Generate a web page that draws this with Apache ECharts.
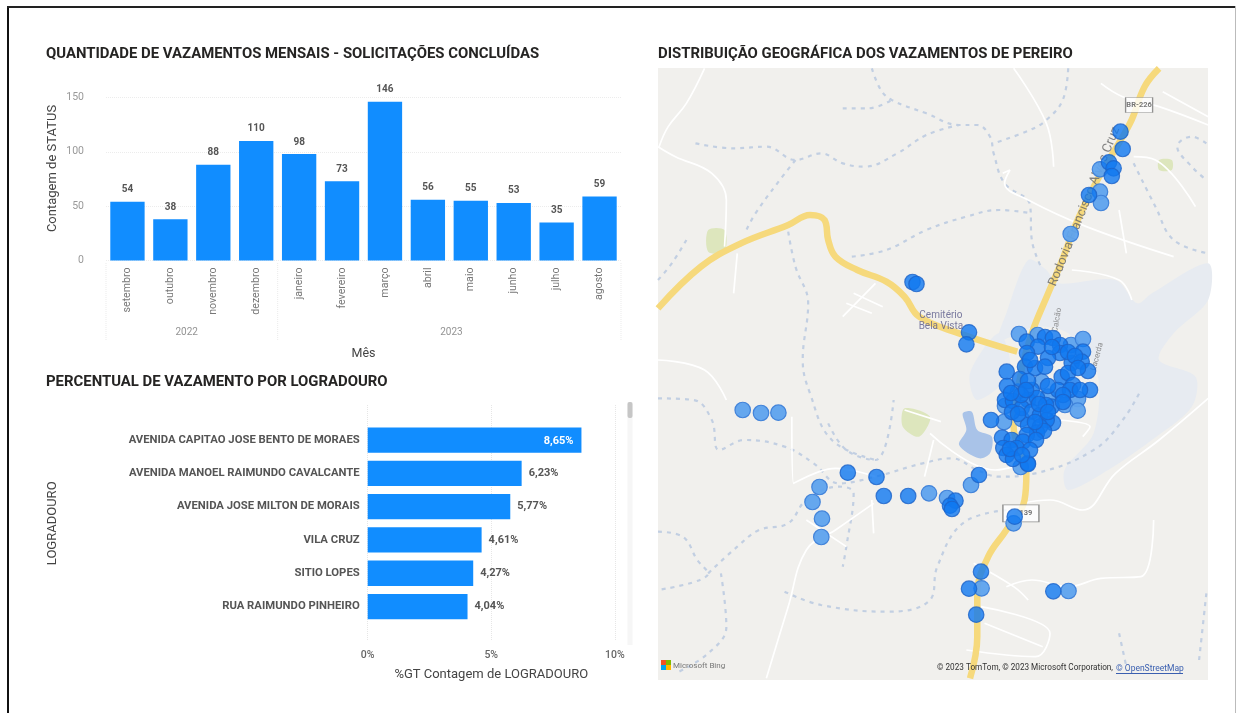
<!DOCTYPE html>
<html><head><meta charset="utf-8">
<style>html,body{margin:0;padding:0;background:#fff}#c{width:1236px;height:713px}canvas{filter:blur(.45px)}</style>
<script src="https://cdn.jsdelivr.net/npm/echarts@6/dist/echarts.min.js"></script>
</head><body><div id="c"></div>
<script>
const months=['setembro','outubro','novembro','dezembro','janeiro','fevereiro','março','abril','maio','junho','julho','agosto'];
const monthCounts=[54,38,88,110,98,73,146,56,55,53,35,59];
const yearLabels=['2022','2023'];
const yearCenters=[1.88,8.05];
const yearEdges=[0,4,12];
const streets=['AVENIDA CAPITAO JOSE BENTO DE MORAES','AVENIDA MANOEL RAIMUNDO CAVALCANTE','AVENIDA JOSE MILTON DE MORAIS','VILA CRUZ','SITIO LOPES','RUA RAIMUNDO PINHEIRO'];
const streetPct=[8.65,6.23,5.77,4.61,4.27,4.04];

// leak points
const darkPoints=[[1120.5,131.7],[1122.7,149],[1109,162.3],[1113.6,168.3],[1111.8,176],[1089,195],[912.5,282],[916.5,284],[969,332.3],[966.4,344.3],
[847.8,472.7],[876.5,477],[883.8,496],[908.2,496],[955.5,500.7],[950,505.7],[952,509],[979,475],[1014.7,516.7],[981,571.7],[969,588.7],[976.2,614.7],[1053.3,591.3],
[1026.7,341.7],[1045,337],[1053,338],[1060,345],[1038,346.7],[1027,353],[1083,351.7],[1060,353],[1048,358],[1071.7,363],[1081.7,361.7],[1025,366.7],[1035,368],[1045,366.7],[1006.7,371.7],[1088,371],[1061.7,377],[1068,373],[1020,379],[1007,386],[1031.7,390],[1058,390],[1073,385],[1070,390],[1090,390],[1063,395],[1005,400],[1013,401],[1028,400],[1037,398],[1051.7,406.7],[1021.7,408],[1031.7,411.7],[1040,415],[1053,423],[1046.7,420],[991,420],[1028,425],[1040,426.7],[1037,432.7],[1026.7,435],[1002,437.7],[1011.7,440],[1023,441.7],[1016.7,448],[1003.3,448],[1006.7,455],[1013,459],[1027.7,463.3],[1028,464],
[1052,347],[1068,352],[1030,360],[1075,356],[1078,368],[1063,402],[1046,405],[1039,404],[1021,395],[1028,381],[1026,390],[1011,393],[1012,412],[1018,414],[1048,386],[1080,390],[1044,431],[1036,440],[1030,450],[1010,449],[1022,455],[1048,412],[1035,422]];
const lightPoints=[[1100,169.3],[1100,191.7],[1101,203],[1070.7,234],[742.7,410],[761,413],[778.4,412.7],[929,493.3],[947,498],[971,485],[819.5,487],[812.5,502],[822,518.7],[821.3,537],[1013.6,523.3],[981.6,588.3],[1068.5,591],
[1019,334],[1037.7,335],[1071,345],[1083,339],[1041.7,381.7],[1018,391.7],[1048,396.7],[1078,399],[1065,405],[1005,406],[1077.7,410.7],[1004,422],[1021.7,419],[1020.7,467]];

// base map, in map units
const z4=p=>p.map(([x,y])=>[x,y+960]);
const highways=[
 [[22,805],[140,680],[250,610],[380,555],[440,525],[480,540],[490,600],[510,650],[570,690],[650,725],[700,770],[740,830],[850,880],[1010,935]],
 [[1400,85],[1360,140],[1320,250],[1240,400],[1180,530],[1130,670],[1095,760],[1050,880],[1020,1000],[1000,1160],[1035,1300],[1030,1380],[980,1470],[930,1550],[900,1660],[900,1790],[880,1915]]
];
const rivers=[
 [[610,85],[635,150],[665,180],[760,220],[850,255],[900,255],[935,290],[945,340],[975,430],[1045,495],[1050,600],[1075,680]],
 [[530,205],[600,205],[665,180]],
 [[125,310],[230,325],[320,320],[400,360],[470,340],[530,370],[590,380],[680,340],[760,285],[850,255]],
 [[400,360],[350,430],[290,520],[265,570]],
 [[1150,85],[1135,180],[1090,240],[1045,270],[945,310]],
 [[555,650],[650,630],[760,570],[870,530],[960,510],[1050,520]],
 [[380,575],[400,680],[435,790],[420,960],[440,1060],[500,1200],[620,1260]],
 [[100,600],[60,670],[22,720]],
 [[1330,370],[1390,500],[1440,600],[1535,640]],
 [[1530,310],[1490,290],[1450,320],[1490,380],[1530,420]],
 z4([[22,115],[120,120],[170,180],[190,270],[260,240],[370,260],[450,310],[520,370],[620,350],[750,310],[830,295],[900,330],[960,350],[1060,340],[1220,270],[1300,180],[1350,90]]),
 z4([[22,515],[90,530],[130,600],[160,640],[22,690]]),
 z4([[160,640],[240,560],[300,510],[380,490],[430,420],[520,380],[560,400],[540,560],[530,620]]),
 z4([[195,640],[210,800],[160,880],[70,940]]),
 z4([[370,695],[470,735],[650,755],[770,720],[790,620],[860,490],[980,450]]),
 z4([[490,190],[540,270],[620,300],[670,120]]),
 z4([[1290,820],[1310,920]]),
 z4([[1530,700],[1510,900]])
];
const streetsWhite=[
 [[150,85],[100,190],[50,260],[25,320]],
 [[22,320],[70,350],[170,400],[210,480],[205,620]],
 [[1000,85],[1090,250],[1110,380]],
 [[970,400],[990,390],[975,430],[1040,480],[1200,560],[1440,650]],
 [[1240,130],[1300,170],[1400,200],[1535,255]],
 [[1410,155],[1535,230]],
 [[1330,350],[1390,360],[1500,500]],
 [[1160,690],[1290,720],[1325,780]],
 [[1290,510],[1310,640]],
 [[240,640],[230,760]],
 [[530,830],[620,730]],[[560,760],[640,800]],[[540,790],[610,820]],
 z4([[22,0],[150,30],[210,120]]),
 z4([[390,170],[395,370],[510,325],[620,350]]),
 z4([[615,430],[510,510],[430,570],[380,740],[320,955]]),
 z4([[430,480],[540,560]]),z4([[610,420],[615,520]]),
 z4([[700,150],[800,185]]),
 z4([[770,220],[950,330],[1000,320]]),
 z4([[780,240],[755,350]]),
 z4([[1020,430],[1100,420],[1190,450],[1280,340],[1400,240],[1535,115]]),
 z4([[890,610],[1000,680],[1040,720]]),
 z4([[980,680],[1050,660],[1150,680],[1240,655],[1350,650],[1385,480]]),
 z4([[910,740],[1100,820],[1060,890],[870,870]]),
 z4([[920,790],[1080,860]]),
 z4([[1120,180],[1210,200],[1190,230]])
];
const wetlands=[
 [[980,820],[1040,660],[1090,690],[1120,730],[1280,720],[1340,790],[1380,760],[1535,670],[1535,780],[1440,880],[1400,960],[1500,1010],[1490,1100],[1380,1200],[1260,1290],[1150,1350],[1140,1290],[1220,1180],[1230,1000],[1150,880],[1060,860],[960,900]],
 [[880,1000],[960,880],[990,1000],[900,1080]]
];
const lake=[[860,1120],[885,1115],[900,1170],[940,1190],[935,1240],[905,1255],[850,1215],[870,1170]];
const parks=[[[160,570],[205,570],[205,635],[160,635]],[[700,1105],[770,1130],[740,1190],[695,1160]],[[1400,360],[1435,360],[1435,390],[1400,390]]];
const mapLabels=[
 {t:'Cemitério',p:[800,825],c:'#5a5a8a',r:0,s:10},
 {t:'Bela Vista',p:[800,858],c:'#5a5a8a',r:0,s:10},
 {t:'Rodovia Francisco Alves Cruz',p:[1195,500],c:'#666',r:68,s:13},
 {t:'Calcão',p:[1120,840],c:'#777',r:80,s:8},
 {t:'Lacerda',p:[1230,950],c:'#777',r:75,s:8}
];

const chart=echarts.init(document.getElementById('c'),null,{renderer:'canvas'});
const titleFont={fontFamily:'Roboto',fontWeight:700,fontSize:14.9,color:'#252423'};
const txt='Roboto, "Open Sans", sans-serif';
const MAP={left:658,top:68,width:550,height:612};
const OV1={left:106,top:262,width:515,height:78};
const OV2={left:367.7,top:405,width:247.1,height:235};
const hide={show:false};
const baseGrid=(i)=>({xAxisIndex:i,yAxisIndex:i});
function poly(data,color,idx){
 return {type:'custom',coordinateSystem:'cartesian2d',...baseGrid(idx),silent:true,z:1,
  data:data.map((d,i)=>[i]),
  encode:{x:[],y:[]},
  renderItem:(p,api)=>({type:'polygon',shape:{points:data[api.value(0)].map(q=>api.coord(q)),smooth:0.3},style:{fill:color}})};
}
function lines(list,style,z){
 return list.map(d=>({type:'line',...baseGrid(2),data:d,smooth:0.4,symbol:'none',silent:true,z,lineStyle:style,animation:false}));
}
chart.setOption({
 animation:false,backgroundColor:'#fff',
 title:[
  {text:'QUANTIDADE DE VAZAMENTOS MENSAIS - SOLICITAÇÕES CONCLUÍDAS',left:46,top:47,padding:0,textStyle:titleFont},
  {text:'PERCENTUAL DE VAZAMENTO POR LOGRADOURO',left:46,top:375,padding:0,textStyle:titleFont},
  {text:'DISTRIBUIÇÃO GEOGRÁFICA DOS VAZAMENTOS DE PEREIRO',left:658,top:47,padding:0,textStyle:titleFont}
 ],
 grid:[
  {left:106,top:97.5,width:515,height:163},
  {left:367.7,top:423.4,width:247.1,height:199.8},
  {...MAP,show:true,backgroundColor:'#f1f0ed',borderWidth:0},
  {...MAP},
  {...OV1},
  {...OV2}
 ],
 xAxis:[
  {gridIndex:0,type:'category',data:months,axisLine:hide,axisTick:hide,
   axisLabel:{rotate:90,color:'#777',fontSize:10.6,margin:7,interval:0,fontFamily:txt},
   name:'Mês',nameLocation:'middle',nameGap:87,nameTextStyle:{color:'#444',fontSize:12.5,fontFamily:txt}},
  {gridIndex:1,type:'value',min:0,max:10,interval:5,axisLine:hide,axisTick:hide,splitLine:hide,
   axisLabel:{formatter:'{value}%',color:'#666',fontSize:10.5,fontWeight:500,margin:27,fontFamily:txt},
   name:'%GT Contagem de LOGRADOURO',nameLocation:'middle',nameGap:45,nameTextStyle:{color:'#444',fontSize:13,fontFamily:txt}},
  {gridIndex:2,type:'value',min:22,max:1534.5,show:false},
  {gridIndex:3,type:'value',min:658,max:1208,show:false},
  {gridIndex:4,type:'value',min:0,max:12,show:false},
  {gridIndex:5,type:'value',min:0,max:10,interval:5,axisLine:hide,axisTick:hide,axisLabel:hide,
   splitLine:{lineStyle:{color:'#e6e6e6',type:'dotted'}}}
 ],
 yAxis:[
  {gridIndex:0,type:'value',min:0,max:150,interval:50,axisLine:hide,axisTick:hide,
   axisLabel:{color:'#999',fontSize:10.5,margin:22,fontFamily:txt},
   splitLine:{lineStyle:{color:'#ececec',type:'dotted'}},
   name:'Contagem de STATUS',nameLocation:'middle',nameGap:47,nameTextStyle:{color:'#444',fontSize:13,fontFamily:txt,padding:[0,0,0,21]}},
  {gridIndex:1,type:'category',data:streets,inverse:true,axisLine:hide,axisTick:hide,
   axisLabel:{color:'#555',fontSize:11.3,fontWeight:700,margin:8,interval:0,fontFamily:txt},
   name:'LOGRADOURO',nameLocation:'middle',nameGap:308,nameTextStyle:{color:'#444',fontSize:13,fontFamily:txt}},
  {gridIndex:2,type:'value',min:84,max:1920,inverse:true,show:false},
  {gridIndex:3,type:'value',min:68,max:680,inverse:true,show:false},
  {gridIndex:4,type:'value',min:0,max:1,show:false},
  {gridIndex:5,type:'value',min:0,max:1,show:false}
 ],
 series:[
  {type:'bar',...baseGrid(0),data:monthCounts,barWidth:'80%',itemStyle:{color:'#118DFF'},z:3,
   label:{show:true,position:'top',distance:7,color:'#555',fontSize:10,fontWeight:700,fontFamily:txt}},
  {type:'bar',...baseGrid(1),data:streetPct.map((v,i)=>({value:v,
     label:i===0?{position:'insideRight',color:'#fff',offset:[-3,1]}:{position:'right',distance:7,color:'#555'}})),
   barWidth:'76%',itemStyle:{color:'#118DFF'},z:3,
   label:{show:true,fontSize:11,fontWeight:700,fontFamily:txt,formatter:p=>p.value.toFixed(2).replace('.',',')+'%'}},
  // multi-level axis: year separators + labels
  ...yearEdges.map(x=>({type:'line',...baseGrid(4),data:[[x,0],[x,1]],symbol:'none',silent:true,lineStyle:{color:'#ebebeb',width:1,type:'dotted'}})),
  {type:'scatter',...baseGrid(4),symbolSize:0,silent:true,data:yearCenters.map((x,i)=>({value:[x,0.1],label:{formatter:yearLabels[i]}})),
   label:{show:true,position:'inside',color:'#777',fontSize:10,fontFamily:txt}},
  {type:'line',...baseGrid(5),data:[],symbol:'none'},
  // base map
  poly(wetlands,'#e7ebf1',2),
  poly([lake],'#a9c3e8',2),
  poly(parks,'#dde6bd',2),
  ...lines(rivers,{color:'#c2cfe2',width:2.2,type:[4,5]},2),
  ...lines(streetsWhite,{color:'#ffffff',width:1.7},3),
  ...lines(highways,{color:'#f6d97c',width:6.5},4),
  {type:'scatter',...baseGrid(2),symbolSize:0,silent:true,z:5,
   data:mapLabels.map(l=>({value:l.p,label:{formatter:l.t,color:l.c,rotate:l.r,fontSize:l.s}})),
   label:{show:true,position:'inside',fontFamily:txt}},
  {type:'scatter',...baseGrid(2),silent:true,z:5,symbol:'rect',symbolSize:[27,15],
   itemStyle:{color:'#fff',borderColor:'#777',borderWidth:1},
   data:[{value:[1345,195],label:{formatter:'BR-226'}},{value:[1020,1420],symbolSize:[36,17],label:{formatter:'139',offset:[5,0]}}],
   label:{show:true,position:'inside',color:'#555',fontSize:7.5,fontWeight:700,fontFamily:txt}},
  // leak points
  {type:'scatter',...baseGrid(3),data:lightPoints,symbolSize:15.5,z:6,itemStyle:{color:'#5da2ee',opacity:.95,borderColor:'#3d80d8',borderWidth:1.2}},
  {type:'scatter',...baseGrid(3),data:darkPoints,symbolSize:15.5,z:7,itemStyle:{color:'#0f78f0',borderColor:'#1d63c8',borderWidth:1.2}}
 ],
 graphic:[
  {type:'rect',silent:true,shape:{x:7,y:6,width:2,height:707},style:{fill:'#111'}},
  {type:'rect',silent:true,shape:{x:7,y:6,width:1229,height:2},style:{fill:'#222'}},
  {type:'rect',silent:true,shape:{x:1235,y:6,width:1,height:707},style:{fill:'#bbb'}},
  {type:'rect',silent:true,shape:{x:627.5,y:402,width:5,height:243},style:{fill:'#f6f6f6'}},
  {type:'rect',silent:true,shape:{x:627.5,y:402,width:5,height:16,r:2},style:{fill:'#c6c6c6'}},
  {type:'rect',silent:true,z:20,shape:{x:661,y:660,width:5,height:5},style:{fill:'#f25022'}},
  {type:'rect',silent:true,z:20,shape:{x:666,y:660,width:5,height:5},style:{fill:'#7fba00'}},
  {type:'rect',silent:true,z:20,shape:{x:661,y:665,width:5,height:5},style:{fill:'#00a4ef'}},
  {type:'rect',silent:true,z:20,shape:{x:666,y:665,width:5,height:5},style:{fill:'#ffb900'}},
  {type:'text',silent:true,z:20,x:673,y:662,style:{text:'Microsoft Bing',fill:'#777',font:'8px Roboto'}},
  {type:'text',silent:true,z:20,x:937,y:664,style:{text:'© 2023 TomTom, © 2023 Microsoft Corporation,',fill:'#333',font:'8.2px Roboto'}},
  {type:'text',silent:true,z:20,x:1116,y:664,style:{text:'© OpenStreetMap',fill:'#3a5fb0',font:'8.5px Roboto'}},
  {type:'rect',silent:true,z:20,shape:{x:1116,y:673,width:67,height:1},style:{fill:'#3a5fb0'}}
 ]
});
</script></body></html>
